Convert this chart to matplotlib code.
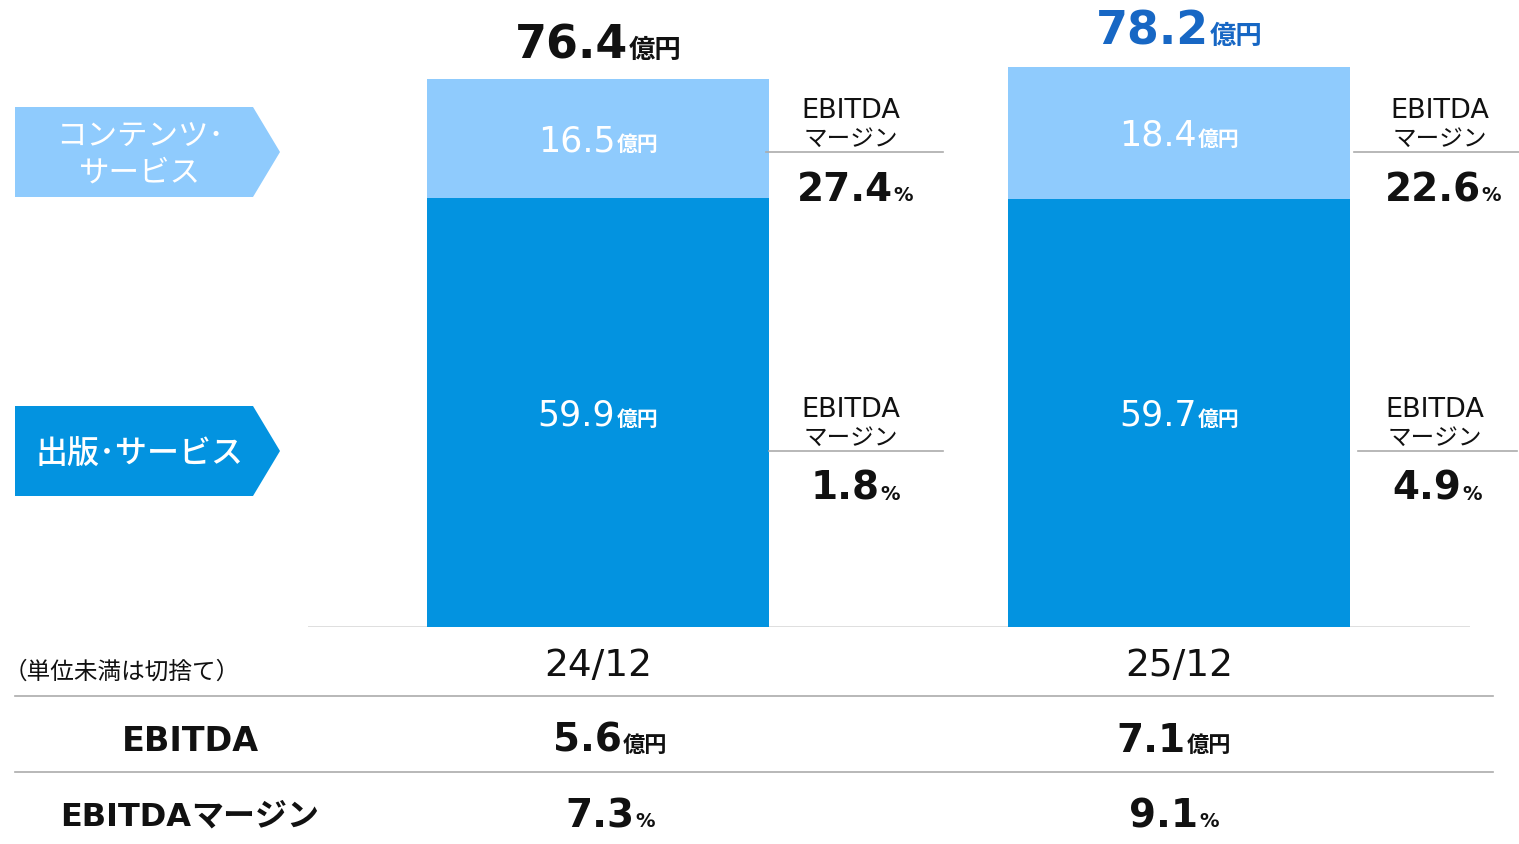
import matplotlib
matplotlib.use("Agg")
import matplotlib.pyplot as plt
from matplotlib.patches import Polygon

plt.rcParams['font.family'] = ['DejaVu Sans', 'Noto Sans CJK JP']

# ---- data ----
categories = ['24/12', '25/12']
publishing = [59.9, 59.7]          # 出版・サービス (億円)
content = [16.5, 18.4]             # コンテンツ・サービス (億円)
totals = [76.4, 78.2]
margin_content = [27.4, 22.6]      # EBITDAマージン (%)
margin_publishing = [1.8, 4.9]
ebitda = [5.6, 7.1]
ebitda_margin = [7.3, 9.1]

DARK = '#0393E0'
LIGHT = '#8FCBFD'
TOTAL_COLORS = ['#111111', '#1767C4']
GRID = '#ABABAB'
JP = ['Noto Sans CJK JP', 'DejaVu Sans']

W, H = 1519, 844
fig = plt.figure(figsize=(W / 100, H / 100), dpi=100)

# bar axes: x from px 308 to 1470, y baseline at px 627
PX_PER_UNIT = 7.17
base_px = 627
ax = fig.add_axes([308 / W, (H - base_px) / H, (1470 - 308) / W, base_px / H])
ax.set_xlim(-0.4991, 1.5009)
ax.set_ylim(0, base_px / PX_PER_UNIT)
x = list(range(len(categories)))
bw = 342 / 581
ax.bar(x, publishing, width=bw, color=DARK, zorder=2)
ax.bar(x, content, width=bw, bottom=publishing, color=LIGHT, zorder=2)
ax.axis('off')
ax.axhline(0, color='#DCDCDC', lw=2, zorder=1)

# overlay axes in pixel coords (y down)
ov = fig.add_axes([0, 0, 1, 1], zorder=5)
ov.set_xlim(0, W)
ov.set_ylim(H, 0)
ov.axis('off')
ov.patch.set_alpha(0)

renderer = fig.canvas.get_renderer()


def to_px(xd, yd):
    X, Y = ax.transData.transform((xd, yd))
    return X, H - Y


def rich(xc, yb, parts, ha='center', gap=1):
    """parts: list of (text, size, weight, color); yb = baseline px."""
    arts = []
    widths = []
    for s, size, weight, color in parts:
        fam = JP if any(ord(c) > 0x2000 for c in s) else ['DejaVu Sans']
        t = ov.text(0, yb, s, fontsize=size, fontweight=weight, color=color,
                    ha='left', va='baseline', family=fam)
        arts.append(t)
        widths.append(t.get_window_extent(renderer).width)
    total = sum(widths) + gap * (len(parts) - 1)
    if ha == 'center':
        start = xc - total / 2
    elif ha == 'left':
        start = xc
    else:
        start = xc - total
    for t, w in zip(arts, widths):
        t.set_x(start)
        start += w + gap


# totals above bars
for i in x:
    cx, top = to_px(i, totals[i])
    yb = top - 21 if i == 0 else top - 22
    rich(cx, yb, [(f'{totals[i]:.1f}', 33, 'bold', TOTAL_COLORS[i]),
                  ('億円', 19, 'bold', TOTAL_COLORS[i])])

# segment labels
for i in x:
    cx, ymid = to_px(i, publishing[i] + content[i] / 2)
    rich(cx, ymid + 13, [(f'{content[i]:.1f}', 25, 'normal', 'white'),
                         ('億円', 15, 'bold', 'white')])
    cx, _ = to_px(i, 0)
    rich(cx, 426, [(f'{publishing[i]:.1f}', 25, 'normal', 'white'),
                   ('億円', 15, 'bold', 'white')])

# EBITDA margin callouts to the right of each bar
callouts = [
    # (x center, top line y, line x0, line x1, value, value center)
    (851, 152, 766, 943, margin_content[0], 855),
    (1440, 152, 1354, 1519, margin_content[1], 1443),
    (851, 451, 769, 943, margin_publishing[0], 855),
    (1435, 451, 1358, 1517, margin_publishing[1], 1437),
]
for cxm, ly, lx0, lx1, val, vcx in callouts:
    ov.text(cxm, ly - 34, 'EBITDA', fontsize=19.5, ha='center', va='baseline', color='#111111')
    ov.text(cxm, ly - 6, 'マージン', fontsize=17, ha='center', va='baseline', color='#111111',
            family=JP)
    ov.plot([lx0, lx1], [ly, ly], color=GRID, lw=1.2)
    rich(vcx, ly + 49, [(f'{val:.1f}', 28, 'bold', '#111111'),
                        ('%', 14, 'bold', '#111111')])

# left segment tags
def tag(y0, y1, color, label, weight, size):
    ym = (y0 + y1) / 2
    poly = Polygon([(15, y0), (253, y0), (280, ym), (253, y1), (15, y1)],
                   closed=True, facecolor=color, edgecolor='none')
    ov.add_patch(poly)
    ov.text(140, ym + 3, label, fontsize=size, color='white', ha='center', va='center',
            fontweight=weight, linespacing=1.2, family=JP)

tag(107, 197, LIGHT, 'コンテンツ･\nサービス', 'normal', 22)
tag(406, 496, DARK, '出版･サービス', 'medium', 23)

# category labels
for i in x:
    cx, _ = to_px(i, 0)
    ov.text(cx, 676, categories[i], fontsize=27, ha='center', va='baseline', color='#111111')
ov.text(4, 679, '（単位未満は切捨て）', fontsize=17, ha='left', va='baseline', color='#111111',
        family=JP)

# table lines
for ly in (696, 772):
    ov.plot([15, 1493], [ly, ly], color=GRID, lw=1.2)

ov.text(190, 751, 'EBITDA', fontsize=24, fontweight='bold', ha='center', va='baseline',
        color='#111111')
rich(190, 826, [('EBITDA', 23, 'bold', '#111111'), ('マージン', 23, 'bold', '#111111')], gap=0)
for i in x:
    cx, _ = to_px(i, 0)
    off = 12 if i == 0 else -5
    rich(cx + off, 752, [(f'{ebitda[i]:.1f}', 28, 'bold', '#111111'),
                         ('億円', 16, 'bold', '#111111')])
    rich(cx + off, 827, [(f'{ebitda_margin[i]:.1f}', 28, 'bold', '#111111'),
                         ('%', 14, 'bold', '#111111')])

fig.savefig('out.png', dpi=100)
